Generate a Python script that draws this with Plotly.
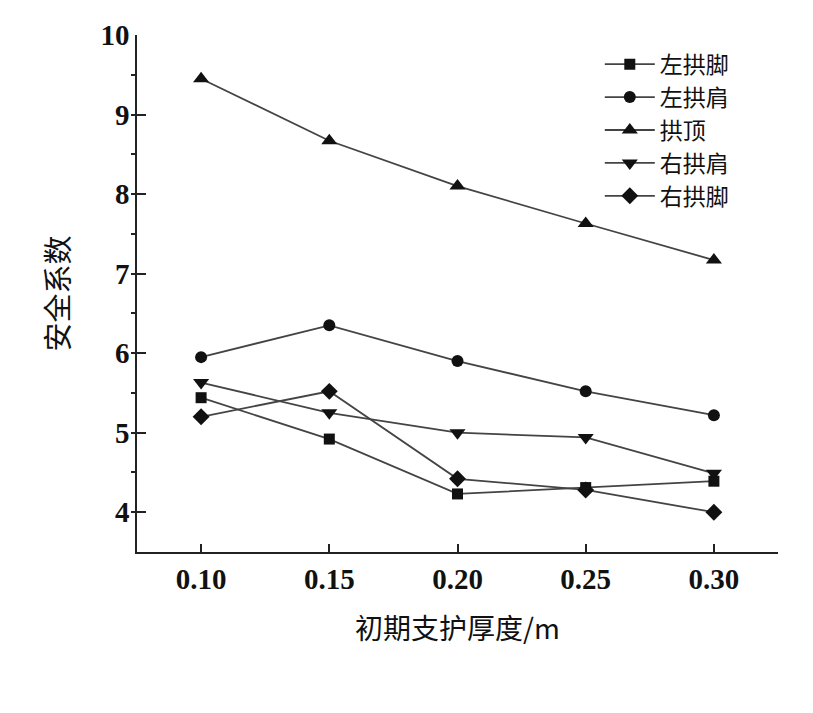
import plotly.graph_objects as go

# 初期支护厚度 (m)
thickness = [0.10, 0.15, 0.20, 0.25, 0.30]
x_ticks = ["0.10", "0.15", "0.20", "0.25", "0.30"]

# 安全系数 by position
left_foot = [5.44, 4.92, 4.23, 4.31, 4.39]      # 左拱脚
left_shoulder = [5.95, 6.35, 5.90, 5.52, 5.22]  # 左拱肩
crown = [9.45, 8.67, 8.10, 7.63, 7.17]          # 拱顶
right_shoulder = [5.63, 5.25, 5.00, 4.94, 4.49] # 右拱肩
right_foot = [5.20, 5.52, 4.42, 4.28, 4.00]     # 右拱脚

series = [
    ("左拱脚", left_foot, "square", 11),
    ("左拱肩", left_shoulder, "circle", 12),
    ("拱顶", crown, "triangle-up", 14),
    ("右拱肩", right_shoulder, "triangle-down", 14),
    ("右拱脚", right_foot, "diamond", 13),
]

serif = "Liberation Serif, Times New Roman, serif"
cjk = "Noto Sans CJK SC, sans-serif"

fig = go.Figure()
for name, vals, sym, sz in series:
    fig.add_trace(go.Scatter(
        x=thickness, y=vals, name=name, mode="lines+markers",
        line=dict(color="#444444", width=1.8),
        marker=dict(symbol=sym, size=sz, color="#111111"),
    ))

# page body adds an 8px offset, so margins are shifted to compensate
fig.update_layout(
    width=813, height=713,
    margin=dict(l=129, r=43, t=27, b=169),
    plot_bgcolor="white", paper_bgcolor="white",
    showlegend=True,
    legend=dict(
        x=0.722, y=0.985, xanchor="left", yanchor="top",
        font=dict(family=cjk, size=23, color="#111111"),
        bgcolor="rgba(0,0,0,0)", tracegroupgap=0, itemwidth=50,
    ),
)

fig.update_xaxes(
    range=[0.075, 0.325], tickvals=thickness, ticktext=x_ticks,
    showline=True, linecolor="#222222", linewidth=1.5,
    ticks="inside", ticklen=8, tickwidth=1.5, tickcolor="#222222",
    minor=dict(tickvals=[0.325], ticks="inside", ticklen=8, tickwidth=1.5, tickcolor="#222222"),
    showgrid=False, zeroline=False,
    tickfont=dict(family=serif, size=29, color="#111111", weight="bold"),
    title=dict(text="初期支护厚度/m", font=dict(family=cjk, size=28, color="#111111"), standoff=26),
)

fig.update_yaxes(
    range=[3.5, 10], tickvals=[4, 5, 6, 7, 8, 9, 10],
    showline=True, linecolor="#222222", linewidth=1.5,
    ticks="inside", ticklen=9, tickwidth=1.5, tickcolor="#222222",
    minor=dict(dtick=0.5, tick0=0.5, ticks="outside", ticklen=4, tickwidth=1.5, tickcolor="#222222"),
    showgrid=False, zeroline=False,
    tickfont=dict(family=serif, size=29, color="#111111", weight="bold"),
    title=dict(text="安全系数", font=dict(family=cjk, size=29, color="#111111"), standoff=22),
)

fig.write_html("out.html")
